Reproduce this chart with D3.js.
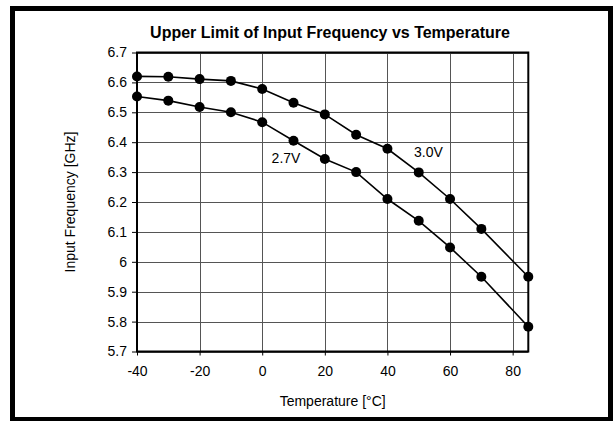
<!DOCTYPE html>
<html><head><meta charset="utf-8">
<script src="https://cdn.jsdelivr.net/npm/d3@7"></script>
<style>body{margin:0;background:#fff}svg{display:block}text{font-family:"Liberation Sans",Arial,sans-serif}</style>
</head><body>
<svg id="c" width="613" height="421"></svg>
<script>
const temps = [-40,-30,-20,-10,0,10,20,30,40,50,60,70,85];
const freq30 = [6.62,6.619,6.611,6.605,6.578,6.532,6.493,6.425,6.378,6.299,6.21,6.11,5.95];
const freq27 = [6.553,6.539,6.518,6.50,6.467,6.405,6.344,6.30,6.21,6.137,6.048,5.95,5.783];
const xTicks = [-40,-20,0,20,40,60,80];
const xTickLabels = ["-40","-20","0","20","40","60","80"];
const yTicks = [5.7,5.8,5.9,6.0,6.1,6.2,6.3,6.4,6.5,6.6,6.7];
const yTickLabels = ["5.7","5.8","5.9","6","6.1","6.2","6.3","6.4","6.5","6.6","6.7"];
const title = "Upper Limit of Input Frequency vs Temperature";
const xTitle = "Temperature [°C]";
const yTitle = "Input Frequency [GHz]";

const svg = d3.select("#c");
svg.append("rect").attr("x",12.5).attr("y",8.5).attr("width",598).attr("height",411)
  .attr("fill","none").attr("stroke","#000").attr("stroke-width",5);

const L=137,R=528.3,T=52.5,B=351.5;
const x = d3.scaleLinear().domain([-40,85]).range([L,R]);
const y = d3.scaleLinear().domain([5.7,6.7]).range([B,T]);

// grid
const g = svg.append("g");
g.selectAll(".hg").data(yTicks).join("line")
  .attr("x1",L).attr("x2",R).attr("y1",d=>Math.round(y(d))+0.5).attr("y2",d=>Math.round(y(d))+0.5)
  .attr("stroke","#555").attr("stroke-width",1);
g.selectAll(".vg").data(xTicks).join("line")
  .attr("x1",d=>Math.round(x(d))+0.5).attr("x2",d=>Math.round(x(d))+0.5).attr("y1",T).attr("y2",B)
  .attr("stroke","#555").attr("stroke-width",1);

// axes
const yAxis = d3.axisLeft(y).tickValues(yTicks).tickFormat((d,i)=>yTickLabels[i]).tickSize(5).tickPadding(5);
const ya = svg.append("g").attr("transform",`translate(${L},0)`).call(yAxis);
const xAxis = d3.axisBottom(x).tickValues(xTicks).tickFormat((d,i)=>xTickLabels[i]).tickSize(4).tickPadding(8);
const xa = svg.append("g").attr("transform",`translate(0,${B})`).call(xAxis);
[ya,xa].forEach(a=>{
  a.select(".domain").remove();
  a.selectAll("text").attr("font-size","14px").attr("fill","#000").style("font-family",'"Liberation Sans",Arial,sans-serif');
  a.selectAll("line").attr("stroke","#000");
});
xa.selectAll("text").attr("dy","0.9em");

// plot border
svg.append("rect").attr("x",L).attr("y",T).attr("width",R-L).attr("height",B-T)
  .attr("fill","none").attr("stroke","#000").attr("stroke-width",2);

// series
const line = d3.line().x(d=>x(d[0])).y(d=>y(d[1]));
[freq30,freq27].forEach(s=>{
  const pts = temps.map((t,i)=>[t,s[i]]);
  svg.append("path").attr("d",line(pts)).attr("fill","none").attr("stroke","#000").attr("stroke-width",1.6);
  svg.selectAll(null).data(pts).join("circle").attr("cx",d=>x(d[0])).attr("cy",d=>y(d[1])).attr("r",5).attr("fill","#000");
});

// labels
svg.append("text").attr("x",x(3.0)).attr("y",y(6.33)).attr("font-size","14px").text("2.7V");
svg.append("text").attr("x",x(48.5)).attr("y",y(6.35)).attr("font-size","14px").text("3.0V");

svg.append("text").attr("x",330).attr("y",38).attr("text-anchor","middle").attr("font-size","16px").attr("font-weight","bold").text(title);
svg.append("text").attr("x",(L+R)/2).attr("y",406).attr("text-anchor","middle").attr("font-size","14px").text(xTitle);
svg.append("text").attr("transform",`translate(75,${(T+B)/2}) rotate(-90)`).attr("text-anchor","middle").attr("font-size","14px").text(yTitle);
</script>
</body></html>
